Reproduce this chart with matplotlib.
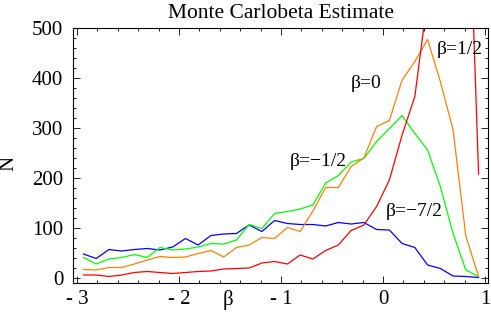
import matplotlib
matplotlib.use('Agg')
import matplotlib.pyplot as plt
from matplotlib.ticker import MultipleLocator

plt.rcParams['font.family'] = ['Liberation Serif', 'DejaVu Serif']

# bin centres on beta
beta = [-2.9375, -2.8125, -2.6875, -2.5625, -2.4375, -2.3125, -2.1875, -2.0625,
        -1.9375, -1.8125, -1.6875, -1.5625, -1.4375, -1.3125, -1.1875, -1.0625,
        -0.9375, -0.8125, -0.6875, -0.5625, -0.4375, -0.3125, -0.1875, -0.0625,
        0.0625, 0.1875, 0.3125, 0.4375, 0.5625, 0.6875, 0.8125, 0.9375]

n_m72 = [48, 39, 57, 54, 57, 59, 56, 62, 79, 66, 85, 88, 89, 106, 93, 115,
         109, 107, 107, 104, 111, 108, 111, 97, 96, 69, 61, 26, 19, 4, 3, 1]
n_m12 = [41, 28, 38, 41, 47, 41, 61, 56, 58, 62, 69, 68, 76, 107, 99, 129,
         133, 138, 146, 190, 205, 232, 239, 273, 299, 325, 289, 256, 183, 89, 16, 3]
n_0 = [17, 16, 21, 21, 28, 36, 43, 41, 42, 49, 55, 42, 61, 66, 81, 79,
       101, 93, 134, 181, 181, 223, 240, 303, 315, 396, 433, 477, 393, 296, 84, 3]
n_p12 = [6, 6, 3, 6, 11, 13, 11, 9, 11, 13, 14, 18, 19, 20, 30, 33,
         28, 46, 38, 55, 66, 95, 106, 143, 196, 286, 363, 560, 850, 1100, 960, 208]

series = [(n_m72, '#0000ff'), (n_m12, '#00ff00'), (n_0, '#ff8000'), (n_p12, '#ff0000')]

labels = ['β=1/2', 'β=0', 'β=−1/2', 'β=−7/2']
label_x = [0.755, -0.17, -0.637, 0.304]
label_y = [458, 388, 232, 132]

xticks = [-3, -2, -1, 0, 1]
xticklabels = ['- 3', '- 2', '- 1', '0', '1']
yticks = [0, 100, 200, 300, 400, 500]

fig = plt.figure(figsize=(4.91, 3.13), dpi=100)
ax = fig.add_axes([73/491, 1-283/313, 415/491, 255/313])

for vals, col in series:
    ax.plot(beta, vals, color=col, lw=0.9)

for t, x, y in zip(labels, label_x, label_y):
    ax.text(x, y, t, fontsize=14, ha='center', va='center')

ax.set_xlim(-3.04, 1.03)
ax.set_ylim(-10, 500)
ax.set_xticks(xticks)
ax.set_xticklabels(xticklabels)
ax.set_yticks(yticks)
ax.xaxis.set_minor_locator(MultipleLocator(0.2))
ax.yaxis.set_minor_locator(MultipleLocator(20))
ax.tick_params(which='both', direction='in', top=True, right=True, labelsize=15, width=0.6)
ax.tick_params(which='major', length=5)
ax.tick_params(which='minor', length=2.5)
ax.tick_params(axis='y', pad=7)
ax.tick_params(axis='x', pad=5)
for s in ax.spines.values():
    s.set_linewidth(0.8)

ax.set_title('Monte Carlobeta Estimate', fontsize=15.5, pad=7)
fig.text(228/491, 1-300/313, 'β', fontsize=15, ha='center', va='center')
fig.text(9/491, 1-163/313, 'N', fontsize=15, ha='center', va='center', rotation=90)

fig.savefig('out.png', dpi=100)
